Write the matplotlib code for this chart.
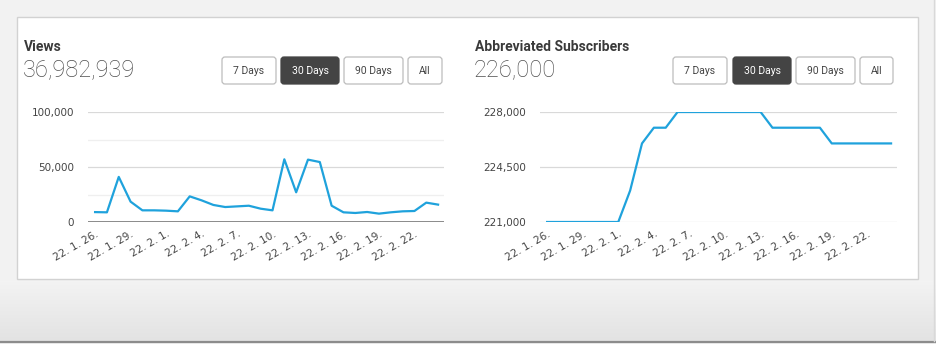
#!/usr/bin/env python
"""
Two small dashboard line charts: daily views and abbreviated subscribers (30 days)
"""
import numpy as np
import matplotlib.pyplot as plt
from matplotlib.patches import Rectangle, FancyBboxPatch
from matplotlib.colors import LinearSegmentedColormap

# data
tick_labels = ['22. 1. 26.', '22. 1. 29.', '22. 2. 1.', '22. 2. 4.', '22. 2. 7.',
               '22. 2. 10.', '22. 2. 13.', '22. 2. 16.', '22. 2. 19.', '22. 2. 22.']
views = [9000, 8800, 41000, 18500, 10600, 10600, 10300, 9700, 23300, 19700,
         15500, 13600, 14200, 14800, 12100, 10600, 57000, 27000, 56700, 54500,
         14800, 8800, 8200, 9100, 7600, 8800, 9700, 10000, 17600, 15800]
subscribers = [221000, 221000, 221000, 221000, 221000, 221000, 221000, 223000,
               226000, 227000, 227000, 228000, 228000, 228000, 228000, 228000,
               228000, 228000, 228000, 227000, 227000, 227000, 227000, 227000,
               226000, 226000, 226000, 226000, 226000, 226000]
buttons = ['7 Days', '30 Days', '90 Days', 'All']
selected = '30 Days'

W, H = 936, 344
LINE = '#1fa2dc'
TXT = '#444444'

fig = plt.figure(figsize=(W / 100, H / 100), dpi=100)

# background layer in pixel units
bg = fig.add_axes([0, 0, 1, 1], zorder=0)
bg.add_patch(Rectangle((0, 0), W, H, facecolor='#f2f2f2', edgecolor='none', zorder=0))
# soft shading towards the bottom edge
shade = LinearSegmentedColormap.from_list('shade', ['#f3f3f3', '#e3e3e3'])
bg.imshow(np.linspace(0, 1, 60).reshape(-1, 1), cmap=shade, aspect='auto',
          extent=(0, W, 341, 281), zorder=0.5)
bg.plot([0, W], [341.5, 341.5], color='#8c8c8c', lw=1.6)
bg.plot([934, 934], [0, 341], color='#d9d9d9', lw=1)
bg.add_patch(Rectangle((17, 17), 901, 262, facecolor='white', edgecolor='#d2d2d2', lw=1))
bg.set_xlim(0, W)
bg.set_ylim(H, 0)
bg.axis('off')


def draw_header(x0, title, number, btn_x):
    bg.text(x0, 47, title, fontsize=10, fontweight='bold', color='#3a3a3a',
            family='Roboto', va='center', ha='left')
    bg.text(x0 - 1, 70, number, fontsize=17, fontweight='light', color='#505050',
            family='Roboto', va='center', ha='left')
    for label, (bx, bw) in zip(buttons, btn_x):
        on = label == selected
        bg.add_patch(FancyBboxPatch((bx, 57), bw, 27, boxstyle='round,pad=0,rounding_size=3',
                                    facecolor='#444444' if on else 'white',
                                    edgecolor='#444444' if on else '#bdbdbd', lw=0.9))
        bg.text(bx + bw / 2, 71, label, fontsize=7.5, color='white' if on else TXT,
                family='Roboto', ha='center', va='center')


draw_header(24, 'Views', '36,982,939', [(222, 54), (281, 58), (344, 59), (408, 34)])
draw_header(475, 'Abbreviated Subscribers', '226,000', [(673, 54), (733, 58), (796, 59), (860, 33)])


def make_axes(left, right, values, yticks, baseline):
    ax = fig.add_axes([left / W, 1 - 222 / H, (right - left) / W, 110 / H], zorder=1)
    ax.patch.set_alpha(0)
    days = list(range(len(values)))
    ax.plot(days, values, color=LINE, lw=1.6, zorder=3)
    ax.set_xlim(-0.6, len(values) - 0.5)
    ax.set_ylim(yticks[0], yticks[-1])
    ax.set_yticks(yticks)
    ax.set_yticklabels([f'{v:,}' for v in yticks])
    for v in yticks:
        ax.axhline(v, color='#d9d9d9', lw=0.9, zorder=1)
    if baseline:
        ax.axhline(yticks[0], color='#8a8a8a', lw=1.4, zorder=2)
        for v in [(yticks[0] + yticks[1]) / 2, (yticks[1] + yticks[2]) / 2]:
            ax.axhline(v, color='#efefef', lw=0.9, zorder=1)
    ax.set_xticks(days[::3])
    ax.set_xticklabels(tick_labels, rotation=30, ha='right', va='top', rotation_mode='anchor')
    ax.tick_params(length=0, labelsize=7.5, labelcolor=TXT)
    ax.tick_params(axis='y', pad=10)
    ax.tick_params(axis='x', pad=5)
    for s in ax.spines.values():
        s.set_visible(False)
    return ax


make_axes(88, 444, views, [0, 50000, 100000], True)
make_axes(540, 897, subscribers, [221000, 224500, 228000], False)

fig.savefig('out.png', dpi=100)
